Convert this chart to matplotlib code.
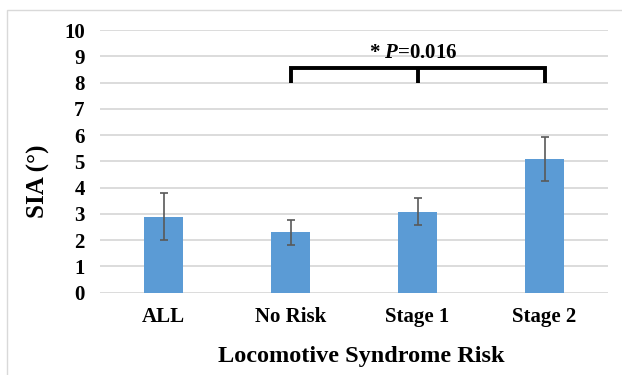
import matplotlib
matplotlib.use("Agg")
import matplotlib.pyplot as plt
from matplotlib.patches import Rectangle

categories = ["ALL", "No Risk", "Stage 1", "Stage 2"]
sia_mean = [2.89, 2.30, 3.08, 5.09]
sia_err = [0.9, 0.47, 0.52, 0.85]
bracket_groups = [1, 2, 3]
bracket_top = 8.57
bracket_bottom = 7.97

plt.rcParams['font.family'] = ['Liberation Serif', 'DejaVu Serif']
plt.rcParams['font.weight'] = 'bold'
plt.rcParams['mathtext.fontset'] = 'custom'
plt.rcParams['mathtext.rm'] = 'Liberation Serif:bold'
plt.rcParams['mathtext.it'] = 'Liberation Serif:italic:bold'
plt.rcParams['mathtext.bfit'] = 'Liberation Serif:italic:bold'

fig = plt.figure(figsize=(6.22, 3.75), dpi=100)
ax = fig.add_axes([0.1608, 0.2195, 0.8167, 0.7005])

x = list(range(len(categories)))
ax.bar(x, sia_mean, width=0.312, color="#5b9bd5", zorder=2)
ax.errorbar(x, sia_mean, yerr=sia_err, fmt="none", ecolor="#595959",
            elinewidth=1.2, capsize=3, capthick=1.2, zorder=3)

# significance bracket
ax.plot([bracket_groups[0], bracket_groups[0], bracket_groups[-1], bracket_groups[-1]],
        [bracket_bottom, bracket_top, bracket_top, bracket_bottom],
        color="black", lw=2.8, zorder=4, solid_capstyle="butt", solid_joinstyle="miter")
ax.plot([bracket_groups[1], bracket_groups[1]], [bracket_top, bracket_bottom],
        color="black", lw=2.8, zorder=4, solid_capstyle="butt")
ax.text(1.618, 9.11, r"* $\mathit{P}$=0.016", ha="left", va="center",
        fontsize=15, fontweight="bold")

ax.set_xlim(-0.5, 3.5)
ax.set_ylim(0, 10)
ax.set_yticks(range(0, 11))
ax.set_xticks(x)
ax.set_xticklabels(categories, fontsize=15, fontweight="bold")
ax.tick_params(axis="y", labelsize=15, length=0, pad=11)
ax.tick_params(axis="x", length=0, pad=10)
ax.grid(axis="y", color="#d9d9d9", lw=1.3, zorder=0)
for s in ax.spines.values():
    s.set_visible(False)

ax.set_ylabel("SIA (°)", fontsize=18, fontweight="bold")
ax.yaxis.set_label_coords(-0.099, 0.426)
ax.set_xlabel("Locomotive Syndrome Risk", fontsize=17.5, fontweight="bold")
ax.xaxis.set_label_coords(0.514, -0.203)

fig.patches.append(Rectangle((0.012, -0.01), 1.0, 0.983, transform=fig.transFigure,
                             fill=False, edgecolor="#d9d9d9", lw=1))

fig.savefig("out.png", dpi=100)
